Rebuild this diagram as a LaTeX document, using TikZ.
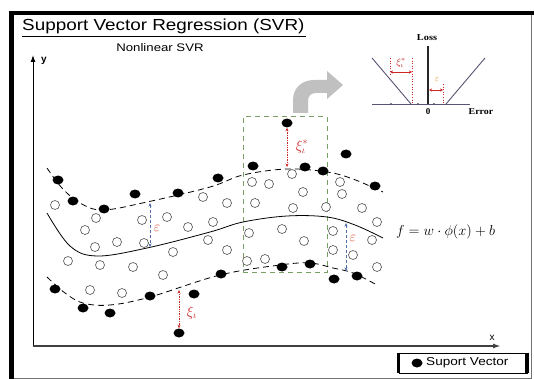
\documentclass[tikz,border=0pt]{standalone}
\usepackage{fontspec}
\setmainfont{Liberation Sans}
\newfontfamily\serifx{Liberation Serif}
\usetikzlibrary{shapes.geometric,arrows.meta}
\definecolor{gbox}{RGB}{120,160,100}
\definecolor{epsblue}{RGB}{80,110,170}
\definecolor{xired}{RGB}{205,40,40}
\definecolor{epsred}{RGB}{225,90,60}
\definecolor{epsorange}{RGB}{230,150,40}
\definecolor{arrgray}{RGB}{192,192,192}
\definecolor{insetline}{RGB}{85,85,115}
\begin{document}
\begin{tikzpicture}[x=1pt,y=-1pt,
  sv/.style={ellipse, fill=black, inner sep=0pt, minimum width=11pt, minimum height=9pt},
  ov/.style={circle, draw=black!65, line width=0.65pt, fill=white, inner sep=0pt, minimum size=9pt},
  bound/.style={line width=0.8pt, dash pattern=on 6pt off 4pt},
  epsarrow/.style={epsblue, line width=0.6pt, densely dashed, {Stealth[length=3.5pt,width=3pt]}-{Stealth[length=3.5pt,width=3pt]}},
  xiarrow/.style={xired, line width=0.7pt, densely dotted, {Stealth[length=3.5pt,width=3pt]}-{Stealth[length=3.5pt,width=3pt]}},
  redarrow/.style={xired, line width=0.8pt, {Stealth[length=3pt,width=3pt]}-{Stealth[length=3pt,width=3pt]}},
  reddot/.style={xired, line width=0.6pt, dotted},
  lbl/.style={inner sep=0pt}
]
\useasboundingbox (0,0) rectangle (534,379);
\fill[white] (0,0) rectangle (534,379);

% outer frame
\draw[black!55, line width=1pt] (11,13) rectangle (531,378);
\draw[line width=5pt] (11,11) -- (11,379);
\draw[line width=4pt] (9,13) -- (534,13);

% titles
\node[lbl, anchor=base west] (title) at (22,31) {\fontsize{16}{18}\selectfont\scalebox{1.18}[1]{Support Vector Regression (SVR)}};
\draw[line width=1pt] (22,37) -- (306,37);
\node[lbl, anchor=base] (sub) at (160,52) {\fontsize{11}{13}\selectfont\scalebox{1.2}[1]{Nonlinear SVR}};

% axes
\coordinate (O) at (33,346);
\coordinate (ytop) at (33,55);
\coordinate (xend) at (501,346);
\draw[line width=1pt, -{Latex[length=7pt,width=5pt]}] (O) -- (ytop);
\draw[line width=1.6pt, black!75, -{Latex[length=8pt,width=5pt]}] (O) -- (xend);
\node[lbl] (ylab) at (44,61) {\fontsize{10}{12}\selectfont\bfseries y};
\node[lbl] (xlab) at (492,338) {\fontsize{10}{12}\selectfont x};

% green selection box
\node[draw=gbox, line width=1pt, dash pattern=on 5pt off 4pt, inner sep=0pt,
      minimum width=84pt, minimum height=155pt] (zoombox) at (285,194.5) {};

% curves
\draw[bound] plot[smooth, tension=0.6] coordinates {(47,168) (62,188) (80,203) (103,210) (147,202) (210,187) (243,175) (287,169) (327,172) (353,179) (383,192)};
\draw[line width=0.8pt] plot[smooth, tension=0.6] coordinates {(47,213) (70,246) (97,256) (147,248) (210,232) (243,222) (287,216) (327,217) (355,225) (383,238)};
\draw[bound] plot[smooth, tension=0.6] coordinates {(47,277) (65,293) (83,303) (110,305) (150,297) (220,275) (280,265) (310,263) (333,268) (353,273) (377,285)};

% open points
\foreach \px/\py [count=\i] in {55/205, 96/218, 85/230, 142/220, 167/217, 188/227, 213/222,
  95/247, 117/242, 144/243, 173/252, 208/240, 227/250, 203/197, 227/203, 255/203, 249/233,
  68/261, 100/265, 133/267, 163/275, 90/290, 122/293, 247/261, 265/259, 252/182, 269/184,
  292/174, 303/192, 293/208, 326/207, 340/182, 342/194, 362/208, 377/222, 282/229, 304/241,
  333/231, 333/250, 353/255, 372/240, 377/267}
  \node[ov] (o\i) at (\px,\py) {};

% support vectors
\foreach \px/\py [count=\i] in {58/180, 73/201, 104/209, 135/194, 178/193, 218/178, 253/166,
  287/123, 305/167, 323/171, 346/154, 375/186, 55/289, 83/308, 110/313, 150/296, 194/294,
  179/333, 221/274, 282/267, 310/264, 334/279, 357/276}
  \node[sv] (s\i) at (\px,\py) {};

% epsilon tubes
\coordinate (e1a) at (150,203);
\coordinate (e1b) at (150,247);
\draw[epsarrow] (e1a) -- (e1b);
\node[lbl, text=epsred] (eps1) at (157,228) {\fontsize{14}{16}\selectfont$\varepsilon$};
\coordinate (e2a) at (346,223);
\coordinate (e2b) at (346,271);
\draw[epsarrow] (e2a) -- (e2b);
\node[lbl, text=epsred] (eps2) at (353,238) {\fontsize{14}{16}\selectfont$\varepsilon$};

% slack variables
\coordinate (xl) at (179,290);
\draw[xiarrow] (xl) -- (s18.north);
\node[lbl, text=xired] (xil) at (192,313) {\fontsize{14}{16}\selectfont$\xi_{\iota}$};
\coordinate (xu) at (287,167);
\draw[xiarrow] (s8.south) -- (xu);
\node[lbl, text=xired] (xiu) at (302,147) {\fontsize{14}{16}\selectfont$\xi^{*}_{\iota}$};

% function label
\node[lbl, anchor=west] (fx) at (396,232) {\fontsize{14}{16}\selectfont$f = w\cdot\phi(x) + b$};

% gray curved arrow
\fill[arrgray] (293,113) -- (293,100) .. controls (293,88) and (302,80) .. (314,80)
  -- (327,80) -- (327,71) -- (343,85) -- (327,99) -- (327,93) -- (316,93)
  .. controls (311,93) and (308,96) .. (308,101) -- (308,113) -- cycle;

% loss inset
\coordinate (lo) at (428,104);
\coordinate (ltop) at (428,46);
\coordinate (lleft) at (372,104);
\coordinate (lright) at (470,104);
\coordinate (va) at (372,58);
\coordinate (vb) at (411,104);
\coordinate (vc) at (446,104);
\coordinate (vd) at (485,58);
\draw[insetline, line width=0.8pt] (lleft) -- (lright);
\draw[insetline, line width=0.9pt] (va) -- (vb);
\draw[insetline, line width=0.9pt] (vc) -- (vd);
\draw[black!85, line width=1.6pt] (lo) -- (ltop);
\foreach \dx [count=\i] in {391,418,434}
  \node[circle, fill=insetline, inner sep=0pt, minimum size=2.2pt] (ld\i) at (\dx,104) {};
\coordinate (r1a) at (390,58);
\coordinate (r1b) at (390,76);
\coordinate (r2a) at (412,58);
\coordinate (r2b) at (412,104);
\draw[reddot] (r1a) -- (r1b);
\draw[reddot] (r2a) -- (r2b);
\coordinate (ra) at (390,72);
\coordinate (rb) at (412,72);
\draw[redarrow] (ra) -- (rb);
\node[lbl, text=xired] (xiins) at (401,63) {\fontsize{10}{11}\selectfont$\xi^{*}_{\iota}$};
\coordinate (r3a) at (443,84);
\coordinate (r3b) at (443,104);
\draw[reddot] (r3a) -- (r3b);
\coordinate (rc) at (429,90);
\coordinate (rd) at (443,90);
\draw[redarrow] (rc) -- (rd);
\node[lbl, text=epsorange] (epsins) at (437,80) {\fontsize{9}{10}\selectfont$\varepsilon$};
\node[lbl] (losslab) at (427,38) {\serifx\bfseries\fontsize{9}{10}\selectfont\scalebox{1.15}[1]{Loss}};
\node[lbl] (zerolab) at (428,112) {\serifx\bfseries\fontsize{9}{10}\selectfont 0};
\node[lbl] (errlab) at (481,112) {\serifx\bfseries\fontsize{9}{10}\selectfont\scalebox{1.1}[1]{Error}};

% legend
\node[draw, line width=0.8pt, inner sep=0pt, minimum width=128pt, minimum height=20pt] (leg) at (463,363) {};
\draw[line width=3pt] (leg.north west) -- (leg.south west);
\draw[line width=4pt] (leg.north east) -- (leg.south east);
\node[sv] (legdot) at (417,363) {};
\node[lbl, anchor=west] (legtxt) at (426,363) {\fontsize{11.5}{13}\selectfont\scalebox{1.18}[1]{Suport Vector}};
\end{tikzpicture}
\end{document}
